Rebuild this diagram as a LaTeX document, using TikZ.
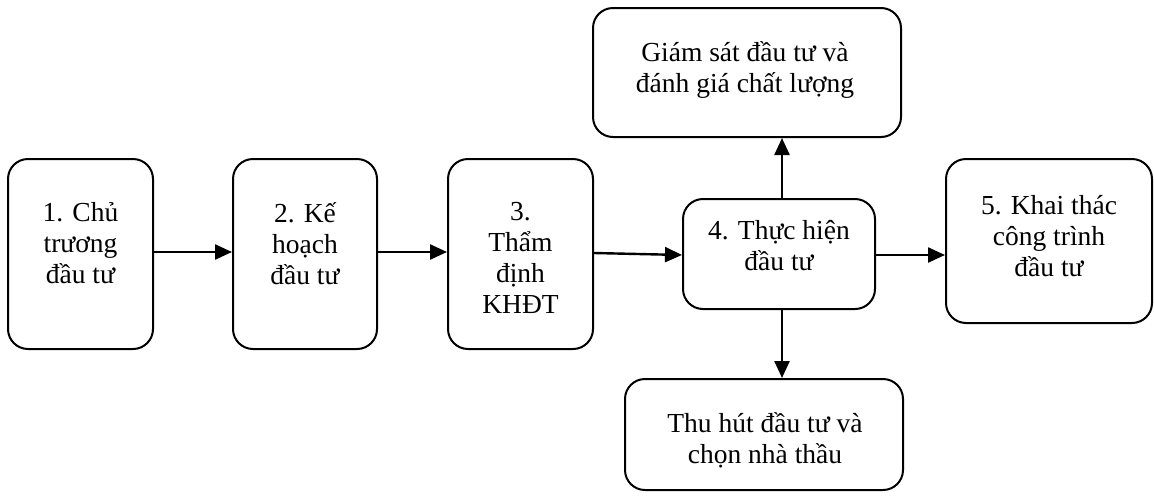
\documentclass[tikz,border=0pt]{standalone}
\usepackage{fontspec}
\setmainfont{Liberation Serif}
\usetikzlibrary{arrows.meta,calc}
\begin{document}
\begin{tikzpicture}[x=1pt,y=-1pt,
  box/.style={draw,line width=2pt,rounded corners=20pt,inner sep=0pt},
  txt/.style={align=center,inner sep=0pt,anchor=north,font=\fontsize{27.5}{31}\selectfont,execute at begin node={\rule{0pt}{28pt}}},
  arr/.style={line width=2.4pt,-{Triangle[length=17pt,width=15pt]}}]
\useasboundingbox (0,0) rectangle (1154,496);
\node[box,minimum width=145pt,minimum height=190pt] (b1) at (80.5,254) {};
\node[box,minimum width=144pt,minimum height=190pt] (b2) at (305,254) {};
\node[box,minimum width=145pt,minimum height=190pt] (b3) at (520.5,254) {};
\node[box,minimum width=192pt,minimum height=110pt] (b4) at (779,254) {};
\node[box,minimum width=206pt,minimum height=164pt] (b5) at (1049,241) {};
\node[box,minimum width=308pt,minimum height=129pt] (gs) at (747,72.5) {};
\node[box,minimum width=278pt,minimum height=111pt] (th) at (764,434.5) {};
\node[txt] (t1) at (80.5,202) {1. Chủ\\trương\\đầu tư};
\node[txt] (t2) at (305,202) {2. Kế\\hoạch\\đầu tư};
\node[txt] (t3) at (520.5,202) {3.\\Thẩm\\định\\KHĐT};
\node[txt] (t4) at (779,220) {4. Thực hiện\\đầu tư};
\node[txt] (t5) at (1049,195) {5. Khai thác\\công trình\\đầu tư};
\node[txt] (t6) at (745,41) {Giám sát đầu tư và\\đánh giá chất lượng};
\node[txt] (t7) at (765,412) {Thu hút đầu tư và\\chọn nhà thầu};
\draw[arr] ([yshift=2]b1.east) -- ([yshift=2]b1.east -| b2.west);
\draw[arr] ([yshift=2]b2.east) -- ([yshift=2]b2.east -| b3.west);
\draw[arr] ([yshift=1]b3.east) -- ([yshift=-1]b4.west);
\draw[arr] ([yshift=-1]b4.east) -- ([yshift=-1]b4.east -| b5.west);
\draw[arr] ([xshift=3]b4.north) -- ([xshift=3]b4.north |- gs.south);
\draw[arr] ([xshift=3]b4.south) -- ([xshift=3]b4.south |- th.north);
\end{tikzpicture}
\end{document}
